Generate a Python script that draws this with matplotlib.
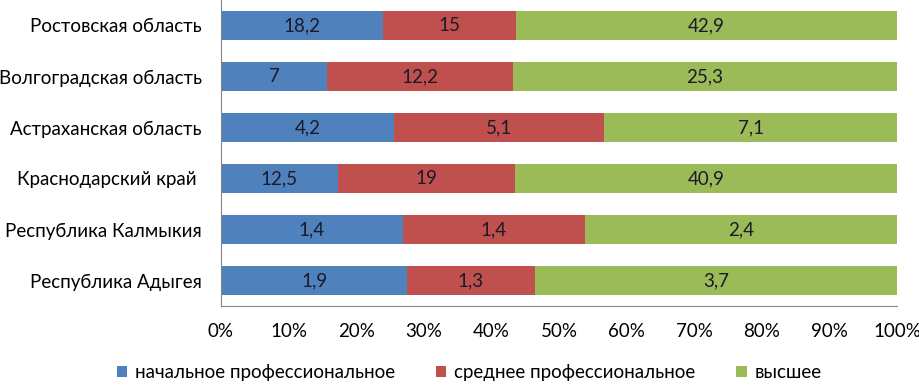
import numpy as np
import matplotlib.pyplot as plt

plt.rcParams['font.family'] = ['Lato', 'DejaVu Sans']

regions = ['Ростовская область', 'Волгоградская область', 'Астраханская область',
           'Краснодарский край ', 'Республика Калмыкия', 'Республика Адыгея']
nachalnoe = [18.2, 7, 4.2, 12.5, 1.4, 1.9]
srednee = [15, 12.2, 5.1, 19, 1.4, 1.3]
vysshee = [42.9, 25.3, 7.1, 40.9, 2.4, 3.7]
labels = ['начальное профессиональное', 'среднее профессиональное', 'высшее']
colors = ['#4F81BD', '#C0504D', '#9BBB59']

data = np.array([nachalnoe, srednee, vysshee])
shares = data / data.sum(axis=0) * 100

fig = plt.figure(figsize=(9.2, 3.87), dpi=100)
ax = fig.add_axes([221 / 920, 1 - 306 / 387, 676 / 920, 306 / 387])

y = np.arange(len(regions))
left = np.zeros(len(regions))
for i in range(3):
    bars = ax.barh(y, shares[i], left=left, height=0.57, color=colors[i], label=labels[i])
    txt = [f'{v:g}'.replace('.', ',') for v in data[i]]
    ax.bar_label(bars, labels=txt, label_type='center', fontsize=13.5, color='#1a1a2a')
    left += shares[i]

ax.set_ylim(len(regions) - 0.5, -0.5)
ax.set_xlim(0, 100)
ax.set_xticks(np.arange(0, 101, 10))
ax.set_xticklabels([f'{v}%' for v in range(0, 101, 10)])
ax.set_yticks(y)
ax.set_yticklabels(regions)
ax.tick_params(axis='both', length=0, labelsize=13.5, colors='black')
ax.tick_params(axis='x', pad=12)
ax.tick_params(axis='y', pad=14)
for s in ['top', 'right']:
    ax.spines[s].set_visible(False)
for s in ['left', 'bottom']:
    ax.spines[s].set_color('#868686')

fig.legend(loc='lower center', bbox_to_anchor=(0.51, -0.028), ncol=3, frameon=False,
           fontsize=13.5, handlelength=0.55, handleheight=0.55, handletextpad=0.4, columnspacing=2.2)

fig.savefig('out.png', dpi=100)
